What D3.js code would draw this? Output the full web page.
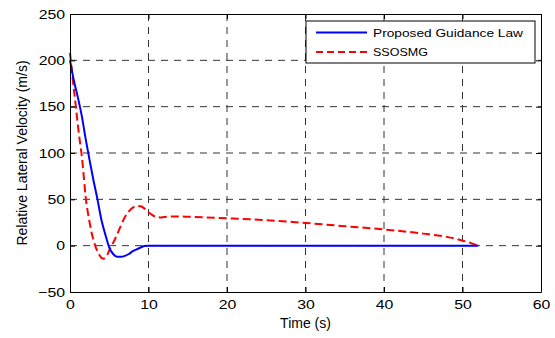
<!DOCTYPE html>
<html>
<head>
<meta charset="utf-8">
<script src="https://cdn.jsdelivr.net/npm/d3@7"></script>
<style>
  body { margin: 0; background: #fff; }
  text { font-family: "Liberation Sans", Arial, sans-serif; fill: #000; }
</style>
</head>
<body>
<svg id="chart" width="555" height="338"></svg>
<script>
// time / relative lateral velocity
const proposedT = [0, 0.5, 1, 1.5, 2, 2.5, 3, 3.5, 4, 4.5, 5, 5.5, 6, 6.5, 7, 7.5, 8, 8.5, 9, 9.5, 10, 20, 30, 40, 52];
const proposedV = [200, 178, 160, 140, 115, 92, 70, 50, 28, 12, -2, -9, -12, -12, -11, -9, -6, -4, -2, -0.3, 0, 0, 0, 0, 0];

const ssosmgT = [0, 0.25, 0.5, 0.75, 1, 1.25, 1.5, 1.75, 2, 2.25, 2.5, 2.75, 3, 3.25, 3.5, 3.75, 4, 4.25, 4.5, 4.75, 5, 5.5, 6, 6.5, 7, 7.5, 8, 8.5, 9, 9.5, 10, 10.5, 11, 11.5, 12, 13, 14, 15, 20, 25, 30, 35, 40, 45, 48, 50, 51, 52];
const ssosmgV = [208, 188, 168, 150, 130, 113, 97, 75, 52, 37, 25, 14, 6, -1, -6, -10, -13, -14, -13, -10, -5, 3, 12, 22, 31, 37, 41, 43, 42.5, 40, 36, 33, 31, 30.5, 31, 31.5, 31.5, 31.2, 29.5, 27.5, 24.5, 21, 17.5, 13, 9.5, 5.5, 3, 0];

const xTicks = [0, 10, 20, 30, 40, 50, 60];
const yTicks = [-50, 0, 50, 100, 150, 200, 250];
const seriesNames = ["Proposed Guidance Law", "SSOSMG"];

const margin = { top: 14, right: 14, bottom: 46, left: 70 };
const width = 555 - margin.left - margin.right;
const height = 338 - margin.top - margin.bottom;
const sx = 1.22; // tick labels in the figure are stretched sideways

const svg = d3.select("#chart");
const g = svg.append("g").attr("transform", `translate(${margin.left},${margin.top})`);

const x = d3.scaleLinear().domain([0, 60]).range([0, width]);
const y = d3.scaleLinear().domain([-50, 250]).range([height, 0]);

// dashed grid
g.append("g").selectAll("line")
    .data(xTicks.slice(1, -1))
    .enter().append("line")
    .attr("x1", d => x(d)).attr("x2", d => x(d))
    .attr("y1", 0).attr("y2", height)
    .attr("stroke", "#333").attr("stroke-dasharray", "7,6");

g.append("g").selectAll("line")
    .data(yTicks.slice(1, -1))
    .enter().append("line")
    .attr("x1", 0).attr("x2", width)
    .attr("y1", d => y(d)).attr("y2", d => y(d))
    .attr("stroke", "#333").attr("stroke-dasharray", "7,6");

// curves
const line = d3.line()
    .x(d => x(d[0]))
    .y(d => y(d[1]))
    .curve(d3.curveMonotoneX);

g.append("path")
    .datum(ssosmgT.map((t, i) => [t, ssosmgV[i]]))
    .attr("fill", "none")
    .attr("stroke", "#ff0000")
    .attr("stroke-width", 2)
    .attr("stroke-dasharray", "8,4")
    .attr("d", line);

g.append("path")
    .datum(proposedT.map((t, i) => [t, proposedV[i]]))
    .attr("fill", "none")
    .attr("stroke", "#0000ff")
    .attr("stroke-width", 2)
    .attr("d", line);

// axes, matlab style: ticks pointing inward on all four sides
const xAxis = g.append("g")
    .attr("transform", `translate(0,${height})`)
    .call(d3.axisBottom(x).tickValues(xTicks).tickSizeInner(-5).tickSizeOuter(0).tickPadding(7.5));
xAxis.selectAll("text")
    .attr("transform", `scale(${sx},1)`)
    .style("font-size", "13px");

const yAxis = g.append("g")
    .call(d3.axisLeft(y).tickValues(yTicks).tickSizeInner(-5).tickSizeOuter(0).tickPadding(4));
yAxis.selectAll("text")
    .attr("transform", `scale(${sx},1)`)
    .style("font-size", "13px");

g.append("g")
    .call(d3.axisTop(x).tickValues(xTicks).tickSizeInner(-5).tickSizeOuter(0).tickFormat(""));
g.append("g")
    .attr("transform", `translate(${width},0)`)
    .call(d3.axisRight(y).tickValues(yTicks).tickSizeInner(-5).tickSizeOuter(0).tickFormat(""));

g.selectAll(".domain").attr("stroke", "#000");
g.selectAll(".tick line").attr("stroke", "#000");

// axis labels
g.append("text")
    .attr("x", width / 2)
    .attr("y", height + 36)
    .attr("text-anchor", "middle")
    .style("font-size", "14px")
    .text("Time (s)");

g.append("text")
    .attr("transform", `translate(${27 - margin.left},${height / 2}) rotate(-90)`)
    .attr("text-anchor", "middle")
    .style("font-size", "14px")
    .text("Relative Lateral Velocity (m/s)");

// legend
const legend = g.append("g").attr("transform", `translate(${306 - margin.left},${21 - margin.top})`);
legend.append("rect")
    .attr("width", 229).attr("height", 42)
    .attr("fill", "#fff").attr("stroke", "#000");

const legendStyles = [
    { color: "#0000ff", dash: null, len: 150 },
    { color: "#ff0000", dash: "7,4", len: 55 }
];
seriesNames.forEach((name, i) => {
    const row = legend.append("g").attr("transform", `translate(0,${11.5 + i * 19.5})`);
    row.append("line")
        .attr("x1", 10).attr("x2", 61)
        .attr("stroke", legendStyles[i].color)
        .attr("stroke-width", 2)
        .attr("stroke-dasharray", legendStyles[i].dash);
    row.append("text")
        .attr("x", 67)
        .attr("y", 4)
        .attr("textLength", legendStyles[i].len)
        .attr("lengthAdjust", "spacingAndGlyphs")
        .style("font-size", "11.5px")
        .text(name);
});
</script>
</body>
</html>
